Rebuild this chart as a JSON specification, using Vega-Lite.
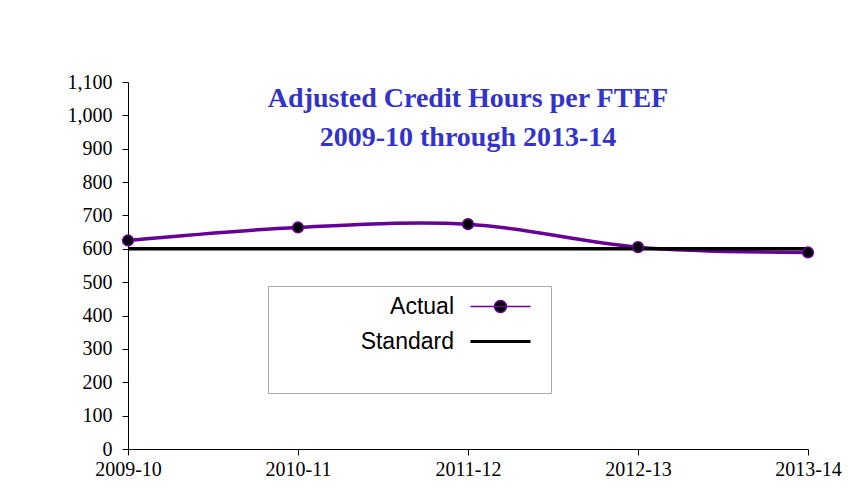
{
  "$schema": "https://vega.github.io/schema/vega-lite/v6.json",
  "width": 680,
  "height": 367,
  "autosize": {"type": "none"},
  "padding": {"left": 128, "top": 82, "right": 47, "bottom": 38},
  "background": "white",
  "title": {
    "text": ["Adjusted Credit Hours per FTEF", "2009-10 through 2013-14"],
    "font": "Liberation Serif",
    "fontSize": 28,
    "fontWeight": "bold",
    "color": "#3333cc",
    "anchor": "middle",
    "baseline": "top",
    "offset": -80,
    "lineHeight": 39
  },
  "data": {
    "values": [
      {"year": "2009-10", "value": 625, "series": "Actual"},
      {"year": "2010-11", "value": 664, "series": "Actual"},
      {"year": "2011-12", "value": 674, "series": "Actual"},
      {"year": "2012-13", "value": 605, "series": "Actual"},
      {"year": "2013-14", "value": 589, "series": "Actual"},
      {"year": "2009-10", "value": 600, "series": "Standard"},
      {"year": "2010-11", "value": 600, "series": "Standard"},
      {"year": "2011-12", "value": 600, "series": "Standard"},
      {"year": "2012-13", "value": 600, "series": "Standard"},
      {"year": "2013-14", "value": 600, "series": "Standard"}
    ]
  },
  "config": {
    "view": {"stroke": null},
    "axis": {
      "labelFont": "Liberation Serif",
      "labelFontSize": 20,
      "labelColor": "black",
      "domainColor": "black",
      "tickColor": "black",
      "grid": false,
      "title": null
    }
  },
  "encoding": {
    "x": {
      "field": "year",
      "type": "ordinal",
      "scale": {"type": "point", "padding": 0},
      "axis": {"labelAngle": 0, "tickSize": 6, "labelPadding": 4, "domainWidth": 1}
    },
    "y": {
      "field": "value",
      "type": "quantitative",
      "scale": {"domain": [0, 1100], "nice": false},
      "axis": {"values": [0,100,200,300,400,500,600,700,800,900,1000,1100], "format": ",d", "tickSize": 6, "labelPadding": 10}
    },
    "color": {
      "field": "series",
      "type": "nominal",
      "scale": {"domain": ["Actual", "Standard", " "], "range": ["#660099", "black", "white"]},
      "legend": {
        "title": null,
        "orient": "none",
        "legendX": 140,
        "legendY": 204,
        "padding": 9,
        "strokeColor": "#aaaaaa",
        "fillColor": "white",
        "labelFont": "Liberation Sans",
        "labelFontSize": 23,
        "labelColor": "black",
        "symbolSize": 3600,
        "symbolStrokeWidth": 3,
        "rowPadding": 11,
        "labelAlign": "right",
        "symbolOffset": 212,
        "labelOffset": -58,
        "encode": {
          "symbols": {
            "update": {
              "shape": {"signal": "datum.value === 'Actual' ? 'M-1,0H1M0.2,0A0.2,0.2 0 1 1 -0.2,0A0.2,0.2 0 1 1 0.2,0' : 'stroke'"},
              "fill": {"signal": "datum.value === 'Actual' ? 'black' : 'transparent'"},
              "strokeWidth": {"signal": "datum.value === 'Actual' ? 1.5 : 3"},
              "size": {"signal": "datum.value === ' ' ? 5000 : 3600"}
            }
          },
          "labels": {
            "update": {
              "fontSize": {"signal": "datum.value === ' ' ? 14 : 23"}
            }
          }
        }
      }
    }
  },
  "layer": [
    {
      "mark": {"type": "line", "interpolate": "catmull-rom", "strokeWidth": 3.5},
      "encoding": {"strokeWidth": {"value": 3.5}}
    },
    {
      "transform": [{"filter": "datum.series === 'Actual'"}],
      "mark": {"type": "point", "filled": true, "size": 115, "fill": "black", "stroke": "#660099", "strokeWidth": 1.5, "opacity": 1},
      "encoding": {"color": {"value": "black"}}
    }
  ]
}
